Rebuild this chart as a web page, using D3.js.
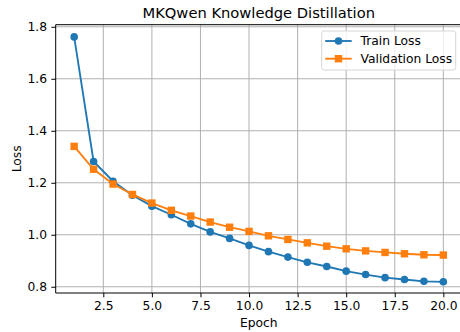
<!DOCTYPE html>
<html>
<head>
<meta charset="utf-8">
<script src="https://cdn.jsdelivr.net/npm/d3@7"></script>
<style>
    body { margin: 0; background: #fff; }
    svg { display: block; font-family: 'DejaVu Sans', sans-serif; }
</style>
</head>
<body>
<svg id="chart"></svg>
<script>
const epochs = d3.range(1, 21);
const trainLoss = [1.761, 1.282, 1.206, 1.152, 1.110, 1.077, 1.042, 1.011, 0.986, 0.959,
    0.935, 0.914, 0.894, 0.878, 0.860, 0.847, 0.835, 0.828, 0.821, 0.819];
const valLoss = [1.340, 1.252, 1.195, 1.155, 1.122, 1.094, 1.072, 1.049, 1.029, 1.013,
    0.996, 0.982, 0.969, 0.956, 0.946, 0.938, 0.932, 0.927, 0.923, 0.922];
const xTicks = [2.5, 5.0, 7.5, 10.0, 12.5, 15.0, 17.5, 20.0];
const yTicks = [0.8, 1.0, 1.2, 1.4, 1.6, 1.8];
const series = [
    { name: 'Train Loss', values: trainLoss, color: '#1f77b4', marker: 'circle' },
    { name: 'Validation Loss', values: valLoss, color: '#ff7f0e', marker: 'square' },
];

// Chart dimensions.
const width = 460;
const height = 332;
const margin = { top: 24.7, right: -1.8, bottom: 39, left: 55.7 };
const fontSize = '12.3px';

const svg = d3.select('#chart').attr('width', width).attr('height', height);

const x = d3.scaleLinear().domain([0.05, 20.95]).range([margin.left, width - margin.right]);
const y = d3.scaleLinear().domain([0.776, 1.808]).range([height - margin.bottom, margin.top]);

// Grid lines.
const grid = svg.append('g').attr('stroke', '#b0b0b0').attr('stroke-width', 1);
grid.selectAll('.gx')
    .data(xTicks)
    .enter()
    .append('line')
    .attr('x1', d => x(d)).attr('x2', d => x(d))
    .attr('y1', margin.top).attr('y2', height - margin.bottom);
grid.selectAll('.gy')
    .data(yTicks)
    .enter()
    .append('line')
    .attr('x1', margin.left).attr('x2', width - margin.right)
    .attr('y1', d => y(d)).attr('y2', d => y(d));

// Axes.
const xAxis = svg.append('g')
    .attr('transform', `translate(0, ${height - margin.bottom})`)
    .call(d3.axisBottom(x).tickValues(xTicks).tickFormat(d3.format('.1f')).tickSizeOuter(0).tickSize(4.3).tickPadding(4));
const yAxis = svg.append('g')
    .attr('transform', `translate(${margin.left}, 0)`)
    .call(d3.axisLeft(y).tickValues(yTicks).tickFormat(d3.format('.1f')).tickSizeOuter(0).tickSize(4.3).tickPadding(4.3));
[xAxis, yAxis].forEach(a => {
    a.attr('font-family', null).attr('font-size', null);
    a.selectAll('text').attr('font-size', fontSize).attr('fill', '#000');
    a.selectAll('line').attr('stroke', '#000').attr('stroke-width', 1);
    a.select('.domain').remove();
});

// Spines.
const spines = svg.append('g').attr('stroke', '#000').attr('stroke-width', 1).attr('fill', 'none');
spines.append('line').attr('x1', margin.left).attr('x2', margin.left).attr('y1', margin.top).attr('y2', height - margin.bottom);
spines.append('line').attr('x1', margin.left).attr('x2', width - margin.right).attr('y1', margin.top).attr('y2', margin.top);
spines.append('line').attr('x1', margin.left).attr('x2', width - margin.right)
    .attr('y1', height - margin.bottom).attr('y2', height - margin.bottom);

// Lines and markers.
const lineGen = d3.line().x((d, i) => x(epochs[i])).y(d => y(d));
series.forEach(s => {
    const g = svg.append('g');
    g.append('path')
        .attr('d', lineGen(s.values))
        .attr('fill', 'none')
        .attr('stroke', s.color)
        .attr('stroke-width', 1.85);
    drawMarkers(g, s.values.map((v, i) => [x(epochs[i]), y(v)]), s);
});

function drawMarkers(g, pts, s) {
    if (s.marker === 'circle') {
        g.selectAll('circle').data(pts).enter().append('circle')
            .attr('cx', d => d[0]).attr('cy', d => d[1]).attr('r', 3.8)
            .attr('fill', s.color);
    } else {
        g.selectAll('rect').data(pts).enter().append('rect')
            .attr('x', d => d[0] - 3.7).attr('y', d => d[1] - 3.7)
            .attr('width', 7.4).attr('height', 7.4)
            .attr('fill', s.color);
    }
}

// Title and labels.
svg.append('text')
    .attr('x', (margin.left + width - margin.right) / 2)
    .attr('y', 18.3)
    .attr('text-anchor', 'middle')
    .attr('font-size', '14.7px')
    .text('MKQwen Knowledge Distillation');
svg.append('text')
    .attr('x', (margin.left + width - margin.right) / 2)
    .attr('y', 327)
    .attr('text-anchor', 'middle')
    .attr('font-size', fontSize)
    .text('Epoch');
svg.append('text')
    .attr('transform', `translate(20.7, ${(margin.top + height - margin.bottom) / 2}) rotate(-90)`)
    .attr('text-anchor', 'middle')
    .attr('font-size', fontSize)
    .text('Loss');

// Legend.
const legend = svg.append('g').attr('transform', 'translate(321.7, 31)');
legend.append('rect')
    .attr('width', 134).attr('height', 39).attr('rx', 2.5)
    .attr('fill', '#fff').attr('fill-opacity', 0.8)
    .attr('stroke', '#d6d6d6').attr('stroke-width', 1);
series.forEach((s, i) => {
    const row = legend.append('g').attr('transform', `translate(0, ${10 + i * 17.7})`);
    row.append('line').attr('x1', 3.5).attr('x2', 30).attr('stroke', s.color).attr('stroke-width', 1.85);
    drawMarkers(row, [[16.8, 0]], s);
    row.append('text').attr('x', 38.8).attr('y', 4.2).attr('font-size', fontSize).text(s.name);
});
</script>
</body>
</html>
